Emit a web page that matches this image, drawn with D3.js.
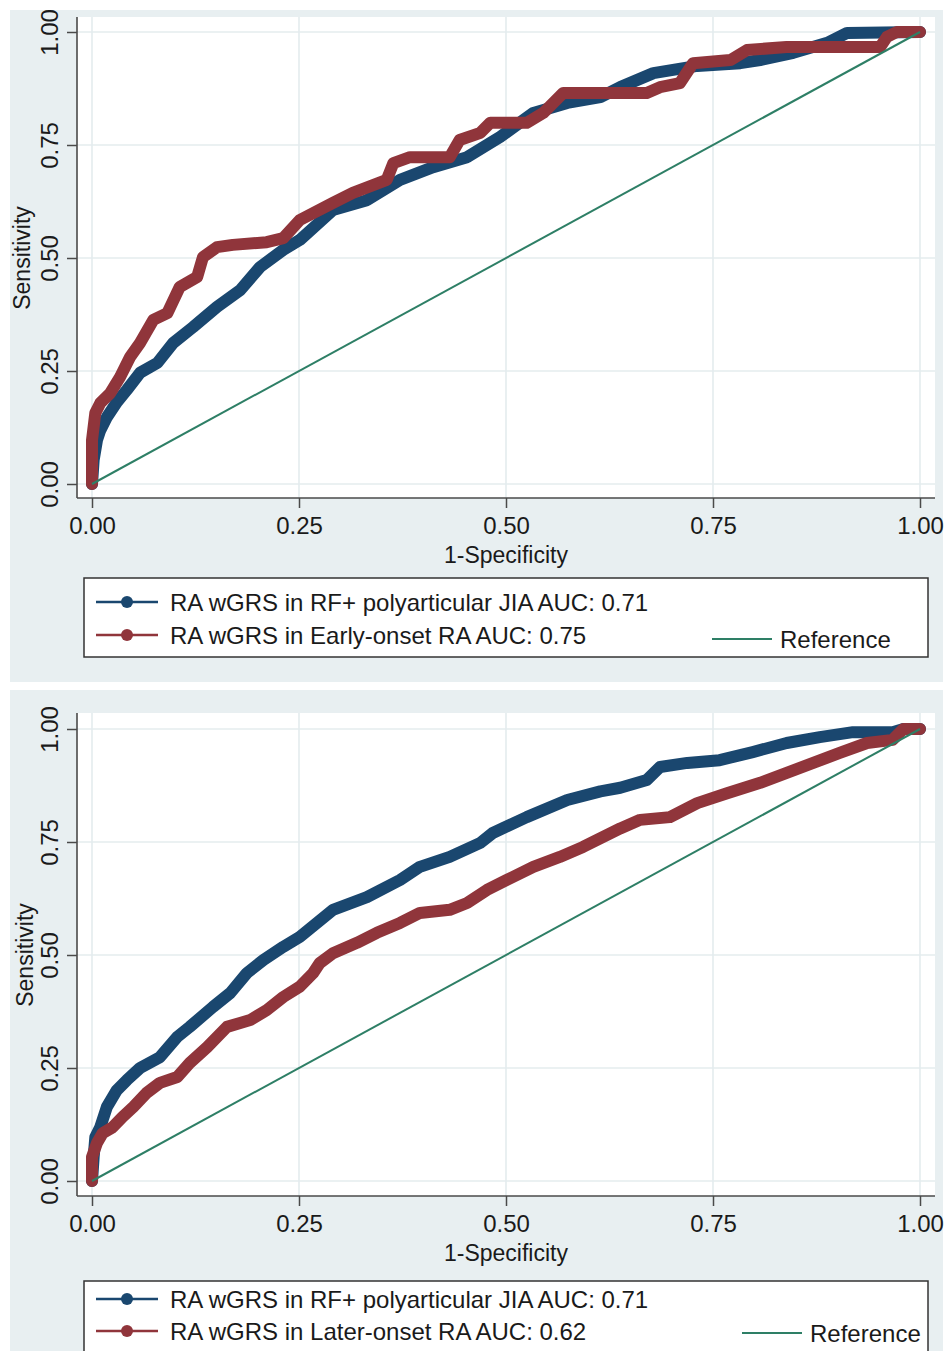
<!DOCTYPE html>
<html>
<head>
<meta charset="utf-8">
<script src="https://cdnjs.cloudflare.com/ajax/libs/d3/7.8.5/d3.min.js"></script>
<style>
  html, body { margin: 0; padding: 0; background: #ffffff; }
  svg { display: block; }
  text { font-family: "Liberation Sans", Arial, sans-serif; fill: #1a1a1a; }
</style>
</head>
<body>
<svg id="chart" width="948" height="1351"></svg>
<script>
// ---------------- DATA ----------------
const xTicks = [0, 0.25, 0.5, 0.75, 1];
const yTicks = [0, 0.25, 0.5, 0.75, 1];
const xTitle = "1-Specificity";
const yTitle = "Sensitivity";

// Panel A: RF+ polyarticular JIA (blue) and Early-onset RA (red)
const jiaTop = [
  [0,0],[0.002,0.053],[0.006,0.097],[0.010,0.119],[0.018,0.148],[0.030,0.181],
  [0.042,0.208],[0.058,0.246],[0.079,0.268],[0.098,0.312],[0.122,0.347],
  [0.151,0.392],[0.179,0.429],[0.203,0.480],[0.231,0.518],[0.251,0.540],
  [0.291,0.606],[0.332,0.628],[0.372,0.673],[0.412,0.701],[0.453,0.723],
  [0.493,0.768],[0.533,0.821],[0.574,0.843],[0.614,0.856],[0.638,0.878],
  [0.678,0.909],[0.731,0.925],[0.783,0.931],[0.807,0.938],[0.847,0.954],
  [0.888,0.976],[0.912,0.998],[1,1]
];
const earlyRA = [
  [0,0],[0,0.097],[0.004,0.157],[0.010,0.179],[0.022,0.201],[0.034,0.237],
  [0.046,0.281],[0.058,0.312],[0.074,0.363],[0.091,0.378],[0.106,0.436],
  [0.127,0.458],[0.134,0.502],[0.151,0.524],[0.170,0.529],[0.211,0.535],
  [0.231,0.544],[0.251,0.584],[0.291,0.622],[0.315,0.644],[0.356,0.673],
  [0.364,0.710],[0.384,0.723],[0.432,0.723],[0.444,0.761],[0.469,0.777],
  [0.481,0.799],[0.525,0.799],[0.545,0.821],[0.569,0.865],[0.670,0.865],
  [0.686,0.878],[0.710,0.887],[0.726,0.931],[0.771,0.938],[0.791,0.960],
  [0.839,0.967],[0.952,0.967],[0.960,0.989],[0.972,1],[1,1]
];

// Panel B: RF+ polyarticular JIA (blue) and Later-onset RA (red)
const jiaBottom = [
  [0,0],[0.002,0.053],[0.004,0.097],[0.010,0.119],[0.018,0.164],[0.030,0.201],
  [0.042,0.223],[0.058,0.250],[0.082,0.274],[0.103,0.319],[0.118,0.341],
  [0.146,0.385],[0.167,0.416],[0.187,0.460],[0.207,0.489],[0.231,0.518],
  [0.251,0.540],[0.291,0.600],[0.332,0.628],[0.372,0.666],[0.396,0.695],
  [0.432,0.717],[0.469,0.748],[0.484,0.770],[0.525,0.805],[0.574,0.843],
  [0.614,0.862],[0.638,0.870],[0.670,0.887],[0.686,0.916],[0.719,0.925],
  [0.758,0.931],[0.798,0.949],[0.839,0.969],[0.879,0.982],[0.919,0.993],
  [0.967,0.993],[0.980,1],[1,1]
];
const laterRA = [
  [0,0],[0,0.053],[0.006,0.084],[0.013,0.106],[0.025,0.119],[0.037,0.142],
  [0.050,0.164],[0.066,0.195],[0.082,0.217],[0.103,0.230],[0.118,0.261],
  [0.139,0.296],[0.163,0.341],[0.191,0.356],[0.211,0.378],[0.231,0.407],
  [0.251,0.430],[0.267,0.460],[0.275,0.482],[0.291,0.504],[0.320,0.527],
  [0.344,0.549],[0.372,0.571],[0.396,0.593],[0.432,0.600],[0.453,0.615],
  [0.477,0.644],[0.501,0.666],[0.533,0.695],[0.565,0.717],[0.593,0.739],
  [0.638,0.780],[0.662,0.799],[0.698,0.805],[0.731,0.836],[0.767,0.858],
  [0.807,0.881],[0.839,0.903],[0.871,0.925],[0.903,0.947],[0.936,0.969],
  [0.967,0.976],[0.980,1],[1,1]
];
const referenceLine = [[0,0],[1,1]];

const panelALabels = ["RA wGRS in RF+ polyarticular JIA AUC: 0.71", "RA wGRS in Early-onset RA AUC: 0.75", "Reference"];
const panelBLabels = ["RA wGRS in RF+ polyarticular JIA AUC: 0.71", "RA wGRS in Later-onset RA AUC: 0.62", "Reference"];

// ---------------- STYLE ----------------
const C = {
  bg: "#e8eff1", grid: "#e4ecee", axis: "#4a4a4a",
  blue: "#1a476f", red: "#90353b", ref: "#2e7f66"
};

const svg = d3.select("#chart");

const panels = [
  { series: [jiaTop, earlyRA], labels: panelALabels,
    bg: [10, 10, 933, 672], plot: [77, 17, 935, 498], yr: [484, 32],
    xTitleY: 563, yTitleX: 30, legend: [84, 578, 928, 657], row1: 602, row2: 635, refRow: 639, refX: 712 },
  { series: [jiaBottom, laterRA], labels: panelBLabels,
    bg: [10, 690, 933, 700], plot: [77, 713, 935, 1196], yr: [1181, 729],
    xTitleY: 1261, yTitleX: 33, legend: [84, 1281, 928, 1380], row1: 1299, row2: 1331, refRow: 1333, refX: 742 }
];

panels.forEach(p => {
  const g = svg.append("g");
  g.append("rect").attr("x", p.bg[0]).attr("y", p.bg[1]).attr("width", p.bg[2]).attr("height", p.bg[3]).attr("fill", C.bg);
  const [pl, pt, pr, pb] = p.plot;
  g.append("rect").attr("x", pl).attr("y", pt).attr("width", pr - pl).attr("height", pb - pt).attr("fill", "#ffffff");

  const x = d3.scaleLinear().domain([0, 1]).range([92, 920]);
  const y = d3.scaleLinear().domain([0, 1]).range(p.yr);

  // gridlines
  g.append("g").selectAll("line.h").data(yTicks).join("line")
    .attr("x1", pl).attr("x2", pr).attr("y1", d => y(d)).attr("y2", d => y(d))
    .attr("stroke", C.grid).attr("stroke-width", 1.6);
  g.append("g").selectAll("line.v").data(xTicks).join("line")
    .attr("y1", pt).attr("y2", pb).attr("x1", d => x(d)).attr("x2", d => x(d))
    .attr("stroke", C.grid).attr("stroke-width", 1.6);

  // axes
  const yAxis = g.append("g").attr("transform", `translate(${pl},0)`)
    .call(d3.axisLeft(y).tickValues(yTicks).tickFormat(d3.format(".2f")).tickSize(10));
  yAxis.select(".domain").remove();
  yAxis.selectAll(".tick line").attr("stroke", C.axis).attr("stroke-width", 1.5);
  yAxis.selectAll(".tick text")
    .attr("x", null).attr("dy", null)
    .attr("transform", "translate(-19,0) rotate(-90)")
    .attr("text-anchor", "middle")
    .style("font-size", "24px").style("font-family", "Liberation Sans, Arial, sans-serif").attr("fill", "#1a1a1a");

  const xAxis = g.append("g").attr("transform", `translate(0,${pb})`)
    .call(d3.axisBottom(x).tickValues(xTicks).tickFormat(d3.format(".2f")).tickSize(10).tickPadding(9));
  xAxis.select(".domain").remove();
  xAxis.selectAll(".tick line").attr("stroke", C.axis).attr("stroke-width", 1.5);
  xAxis.selectAll(".tick text")
    .style("font-size", "24px").style("font-family", "Liberation Sans, Arial, sans-serif").attr("fill", "#1a1a1a");

  g.append("line").attr("x1", pl).attr("x2", pl).attr("y1", pt).attr("y2", pb).attr("stroke", C.axis).attr("stroke-width", 1.6);
  g.append("line").attr("x1", pl).attr("x2", pr).attr("y1", pb).attr("y2", pb).attr("stroke", C.axis).attr("stroke-width", 1.6);

  // titles
  g.append("text").attr("x", x(0.5)).attr("y", p.xTitleY).attr("text-anchor", "middle")
    .style("font-size", "23px").text(xTitle);
  g.append("text").attr("transform", `translate(${p.yTitleX},${y(0.5)}) rotate(-90)`).attr("text-anchor", "middle")
    .style("font-size", "23px").text(yTitle);

  // curves
  const line = d3.line().x(d => x(d[0])).y(d => y(d[1]));
  const cols = [C.blue, C.red];
  p.series.forEach((s, i) => {
    g.append("path").datum(s).attr("d", line).attr("fill", "none")
      .attr("stroke", cols[i]).attr("stroke-width", 12)
      .attr("stroke-linejoin", "round").attr("stroke-linecap", "round");
  });
  g.append("path").datum(referenceLine).attr("d", line).attr("fill", "none")
    .attr("stroke", C.ref).attr("stroke-width", 2);

  // legend
  const [lx1, ly1, lx2, ly2] = p.legend;
  const lg = g.append("g");
  lg.append("rect").attr("x", lx1).attr("y", ly1).attr("width", lx2 - lx1).attr("height", ly2 - ly1)
    .attr("fill", "#ffffff").attr("stroke", "#333333").attr("stroke-width", 1.5);
  [p.row1, p.row2].forEach((ry, i) => {
    lg.append("line").attr("x1", 96).attr("x2", 158).attr("y1", ry).attr("y2", ry)
      .attr("stroke", cols[i]).attr("stroke-width", 2.5);
    lg.append("circle").attr("cx", 127).attr("cy", ry).attr("r", 6).attr("fill", cols[i]);
    lg.append("text").attr("x", 170).attr("y", ry).attr("dy", "0.36em")
      .style("font-size", "24px").text(p.labels[i]);
  });
  lg.append("line").attr("x1", p.refX).attr("x2", p.refX + 60).attr("y1", p.refRow).attr("y2", p.refRow)
    .attr("stroke", C.ref).attr("stroke-width", 2);
  lg.append("text").attr("x", p.refX + 68).attr("y", p.refRow).attr("dy", "0.36em")
    .style("font-size", "24px").text(p.labels[2]);
});
</script>
</body>
</html>
